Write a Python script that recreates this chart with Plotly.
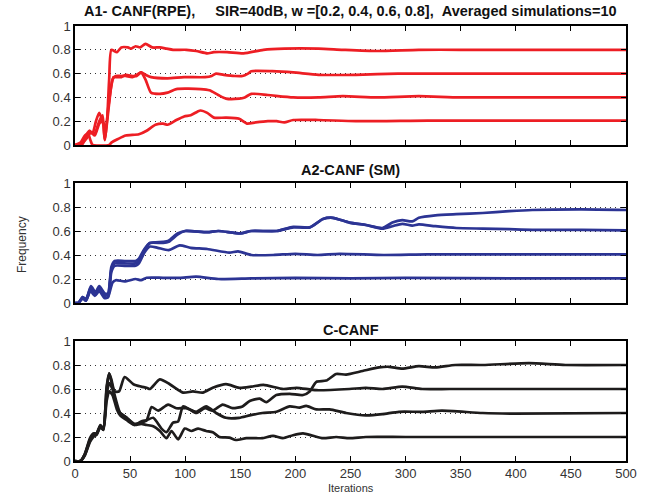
import plotly.graph_objects as go

# ---------------- data ----------------
titles = ["A1- CANF(RPE),\u00a0\u00a0\u00a0\u00a0\u00a0SIR=40dB, w =[0.2, 0.4, 0.6, 0.8],\u00a0\u00a0Averaged simulations=10",
          "A2-CANF (SM)", "C-CANF"]
x_ticks = [0, 50, 100, 150, 200, 250, 300, 350, 400, 450, 500]
y_ticks = [0, 0.2, 0.4, 0.6, 0.8, 1]
y_tick_labels = ["0", "0.2", "0.4", "0.6", "0.8", "1"]

# A1 - CANF(RPE), red
r8_x = [0, 5, 9, 13, 16, 19, 22, 25, 28, 31, 33, 38, 42, 48, 51, 55, 59, 64, 70, 77, 83, 89, 101, 110, 120, 126, 138, 153, 171, 190, 221, 243, 274, 312, 350, 400, 450, 500]
r8_y = [0, 0, 0.07, 0.12, 0.1, 0.2, 0.27, 0.2, 0.15, 0.55, 0.8, 0.78, 0.82, 0.82, 0.81, 0.83, 0.82, 0.85, 0.82, 0.82, 0.81, 0.8, 0.8, 0.79, 0.77, 0.78, 0.78, 0.77, 0.8, 0.81, 0.81, 0.8, 0.79, 0.8, 0.8, 0.8, 0.8, 0.8]
r6_x = [0, 5, 10, 14, 18, 22, 25, 27, 30, 33, 35, 38, 42, 46, 52, 56, 60, 64, 69, 84, 99, 118, 124, 128, 135, 145, 152, 157, 160, 179, 198, 221, 255, 293, 350, 500]
r6_y = [0, 0, 0.05, 0.1, 0.1, 0.2, 0.25, 0.04, 0.3, 0.5, 0.57, 0.57, 0.57, 0.59, 0.58, 0.58, 0.61, 0.59, 0.57, 0.56, 0.57, 0.57, 0.58, 0.6, 0.59, 0.58, 0.58, 0.6, 0.62, 0.62, 0.61, 0.59, 0.59, 0.6, 0.6, 0.6]
r4_x = [0, 6, 10, 14, 18, 22, 25, 27, 31, 34, 37, 42, 46, 52, 56, 60, 64, 69, 77, 84, 92, 114, 122, 130, 137, 149, 154, 160, 175, 198, 221, 243, 274, 312, 350, 500]
r4_y = [0, 0, 0.06, 0.11, 0.08, 0.18, 0.2, 0.05, 0.35, 0.55, 0.58, 0.58, 0.58, 0.57, 0.59, 0.61, 0.55, 0.44, 0.43, 0.44, 0.47, 0.47, 0.46, 0.42, 0.39, 0.39, 0.4, 0.43, 0.42, 0.4, 0.4, 0.41, 0.4, 0.41, 0.4, 0.4]
r2_x = [0, 5, 9, 12, 14, 16, 31, 33, 39, 46, 58, 65, 73, 80, 84, 92, 99, 105, 111, 114, 120, 126, 137, 149, 156, 164, 175, 183, 190, 198, 221, 255, 320, 400, 500]
r2_y = [0, 0.02, 0.08, 0.09, 0.04, 0, 0, 0.02, 0.05, 0.08, 0.09, 0.12, 0.17, 0.18, 0.17, 0.21, 0.24, 0.25, 0.28, 0.29, 0.27, 0.23, 0.23, 0.22, 0.18, 0.19, 0.2, 0.2, 0.19, 0.21, 0.21, 0.2, 0.205, 0.205, 0.205]

# A2 - CANF (SM), blue
b_x = [0, 3, 7, 10, 14.5, 18.5, 22, 27, 30, 33, 36, 45, 55, 58, 63, 68, 80, 85, 93, 100, 120, 130, 150, 160, 183, 198, 213, 225, 234, 249, 264, 279, 288, 297, 306, 312, 327, 346, 370, 394, 415, 460, 500]
b8_y = [0, 0, 0.05, 0.03, 0.14, 0.09, 0.14, 0.08, 0.08, 0.3, 0.35, 0.35, 0.35, 0.37, 0.45, 0.5, 0.51, 0.52, 0.58, 0.6, 0.59, 0.6, 0.58, 0.6, 0.6, 0.635, 0.63, 0.7, 0.71, 0.67, 0.65, 0.625, 0.67, 0.69, 0.68, 0.71, 0.73, 0.74, 0.75, 0.765, 0.775, 0.78, 0.775]
b6_y = [0, 0, 0.05, 0.03, 0.13, 0.08, 0.13, 0.07, 0.07, 0.28, 0.33, 0.33, 0.33, 0.35, 0.44, 0.5, 0.5, 0.51, 0.57, 0.6, 0.59, 0.6, 0.58, 0.6, 0.6, 0.63, 0.63, 0.7, 0.71, 0.67, 0.65, 0.62, 0.64, 0.66, 0.645, 0.655, 0.64, 0.625, 0.62, 0.615, 0.61, 0.61, 0.605]
b4_x = [0, 3, 7, 10, 14.5, 18.5, 22, 27, 30, 33, 36, 45, 55, 58, 63, 68, 75, 85, 95, 105, 120, 140, 148, 160, 180, 200, 220, 240, 280, 320, 400, 500]
b4_y = [0, 0, 0.04, 0.02, 0.12, 0.07, 0.12, 0.05, 0.05, 0.26, 0.31, 0.31, 0.31, 0.33, 0.42, 0.47, 0.46, 0.44, 0.48, 0.46, 0.45, 0.42, 0.43, 0.4, 0.4, 0.41, 0.4, 0.41, 0.4, 0.405, 0.405, 0.405]
b2_x = [0, 3, 7, 10, 14, 18, 22, 27, 30, 34, 37, 45, 55, 60, 65, 80, 95, 110, 130, 160, 200, 250, 300, 400, 500]
b2_y = [0, 0, 0.04, 0.02, 0.1, 0.06, 0.1, 0.04, 0.05, 0.17, 0.19, 0.18, 0.2, 0.19, 0.21, 0.21, 0.21, 0.22, 0.2, 0.205, 0.21, 0.205, 0.21, 0.205, 0.205]

# C-CANF, black
k6_x = [0, 5, 9, 13.6, 16.6, 19.6, 23, 25.7, 28.7, 31, 33, 36, 40, 45, 53, 60, 65, 68, 77, 86, 98, 107, 116, 125, 137, 149, 160, 171, 189, 201, 219, 249, 264, 279, 297, 315, 340, 400, 500]
k6_y = [0, 0, 0.06, 0.19, 0.23, 0.23, 0.3, 0.27, 0.6, 0.73, 0.68, 0.58, 0.58, 0.7, 0.64, 0.62, 0.61, 0.6, 0.68, 0.64, 0.57, 0.58, 0.57, 0.61, 0.64, 0.61, 0.62, 0.635, 0.6, 0.61, 0.59, 0.6, 0.61, 0.6, 0.62, 0.6, 0.6, 0.6, 0.6]
k8_x = [0, 5, 9, 13.6, 16.6, 19.6, 23, 25.7, 28.7, 31, 34, 38, 41, 47, 54, 60, 65, 71, 78.5, 83, 89, 93.6, 98, 104, 110, 118, 125, 134, 143, 152, 158.5, 167.6, 173.6, 182.7, 194.8, 206.9, 213, 219, 228, 237, 246, 261, 276, 285, 297, 312, 327, 345, 370, 412, 445, 500]
k8_y = [0, 0, 0.06, 0.18, 0.22, 0.23, 0.29, 0.27, 0.62, 0.73, 0.62, 0.48, 0.4, 0.36, 0.3, 0.33, 0.34, 0.36, 0.27, 0.24, 0.32, 0.33, 0.455, 0.43, 0.4, 0.44, 0.42, 0.47, 0.44, 0.455, 0.5, 0.52, 0.49, 0.55, 0.56, 0.55, 0.58, 0.66, 0.67, 0.725, 0.72, 0.75, 0.78, 0.785, 0.77, 0.79, 0.78, 0.8, 0.8, 0.815, 0.8, 0.8]
k4_x = [0, 5, 9, 13.6, 16.6, 19.6, 23, 25.7, 28.7, 31, 34, 38, 41, 47, 54, 60, 65, 69.5, 75.5, 84.5, 92, 101, 110, 119, 128, 137, 149, 158.5, 170, 182.7, 194.8, 203.8, 209.8, 219, 231, 246, 264, 279, 294, 315, 333, 370, 400, 500]
k4_y = [0, 0, 0.05, 0.17, 0.21, 0.22, 0.29, 0.26, 0.55, 0.65, 0.6, 0.45, 0.4, 0.36, 0.31, 0.32, 0.34, 0.45, 0.42, 0.47, 0.44, 0.44, 0.41, 0.455, 0.4, 0.36, 0.36, 0.38, 0.4, 0.41, 0.455, 0.445, 0.46, 0.43, 0.43, 0.4, 0.38, 0.39, 0.41, 0.41, 0.42, 0.4, 0.395, 0.4]
k2_x = [0, 5, 9, 13.6, 16.6, 19.6, 23, 25.7, 28.7, 31, 34, 38, 41, 47, 54, 60, 65, 71, 77, 83, 87.6, 93.6, 99.6, 105.7, 111.7, 119, 125, 131, 140, 146, 155.5, 164.6, 170, 179.7, 188.7, 197.8, 206.9, 216, 225, 237, 249, 264, 300, 500]
k2_y = [0, 0, 0.05, 0.16, 0.2, 0.22, 0.28, 0.26, 0.5, 0.58, 0.55, 0.43, 0.38, 0.34, 0.3, 0.31, 0.3, 0.29, 0.25, 0.19, 0.25, 0.18, 0.27, 0.25, 0.27, 0.25, 0.24, 0.2, 0.195, 0.175, 0.19, 0.19, 0.19, 0.21, 0.19, 0.215, 0.23, 0.21, 0.19, 0.2, 0.19, 0.2, 0.2, 0.2]

# ---------------- figure ----------------
RED = "rgb(237,30,36)"
BLUE = "rgb(44,52,148)"
BLACK = "rgb(30,28,28)"

panels = [
    (RED, [(r8_x, r8_y), (r6_x, r6_y), (r4_x, r4_y), (r2_x, r2_y)]),
    (BLUE, [(b_x, b8_y), (b_x, b6_y), (b4_x, b4_y), (b2_x, b2_y)]),
    (BLACK, [(k6_x, k6_y), (k8_x, k8_y), (k4_x, k4_y), (k2_x, k2_y)]),
]

W, H = 656, 495
x0, x1 = 75, 626
ydoms_px = [(26, 145), (183, 303), (341, 461)]

fig = go.Figure()
for i, (color, series) in enumerate(panels):
    sfx = "" if i == 0 else str(i + 1)
    for xs, ys in series:
        fig.add_trace(go.Scatter(x=xs, y=ys, mode="lines",
                                 line=dict(color=color, width=2.7, shape="spline", smoothing=0.6),
                                 xaxis="x" + sfx, yaxis="y" + sfx, showlegend=False,
                                 hoverinfo="skip"))

axis_font = dict(family="Liberation Sans, Arial, sans-serif", size=13, color="#333333")
layout = dict(width=W, height=H, margin=dict(l=0, r=0, t=0, b=0),
              paper_bgcolor="white", plot_bgcolor="white", showlegend=False)
for i, (top, bot) in enumerate(ydoms_px):
    sfx = "" if i == 0 else str(i + 1)
    layout["xaxis" + sfx] = dict(
        domain=[x0 / W, x1 / W], anchor="y" + sfx, range=[0, 500],
        tickvals=x_ticks, ticktext=[str(v) for v in x_ticks],
        showticklabels=(i == 2), ticks="inside", ticklen=5, tickwidth=1, tickcolor="black",
        showline=True, linecolor="black", linewidth=1.5, mirror="ticks",
        showgrid=False, zeroline=False, tickfont=axis_font, automargin=False)
    layout["yaxis" + sfx] = dict(
        domain=[(H - bot) / H, (H - top) / H], anchor="x" + sfx, range=[0, 1],
        tickvals=y_ticks, ticktext=y_tick_labels,
        ticks="inside", ticklen=5, tickwidth=1, tickcolor="black",
        showline=True, linecolor="black", linewidth=1.5, mirror="ticks",
        showgrid=True, gridcolor="#333333", gridwidth=1, griddash="1px,4px",
        zeroline=False, tickfont=axis_font, automargin=False)

title_font = dict(family="Liberation Sans, Arial, sans-serif", size=14.5, color="#111111")
title_y = [11, 170, 330]
annotations = []
for t, ty in zip(titles, title_y):
    annotations.append(dict(text="<b>" + t + "</b>", x=(x0 + x1) / 2 / W, y=(H - ty) / H,
                            xref="paper", yref="paper", showarrow=False,
                            xanchor="center", yanchor="middle", font=title_font))
annotations.append(dict(text="Frequency", x=22 / W, y=(H - 245) / H, xref="paper", yref="paper",
                        showarrow=False, textangle=-90, xanchor="center", yanchor="middle",
                        font=dict(family="Liberation Sans, Arial, sans-serif", size=12, color="#333333")))
annotations.append(dict(text="Iterations", x=(x0 + x1) / 2 / W, y=(H - 488) / H, xref="paper", yref="paper",
                        showarrow=False, xanchor="center", yanchor="middle",
                        font=dict(family="Liberation Sans, Arial, sans-serif", size=11, color="#333333")))
layout["annotations"] = annotations

fig.update_layout(**layout)
fig.write_html("out.html")
